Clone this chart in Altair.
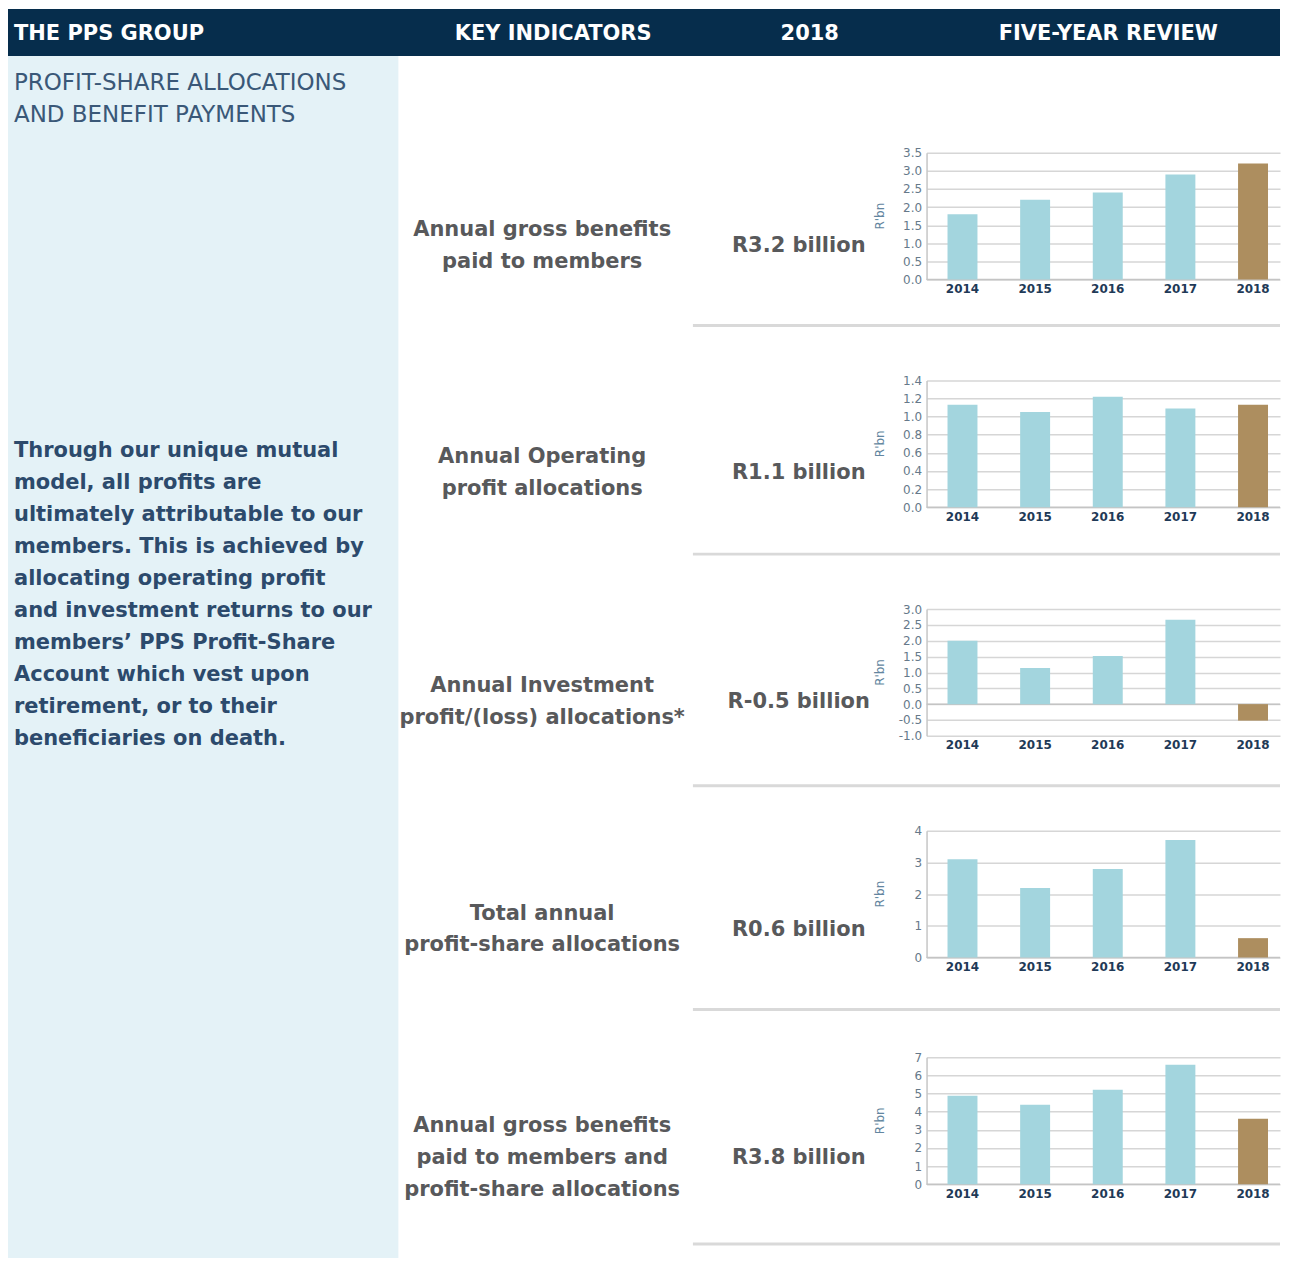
import altair as alt
import pandas as pd

# ---------------- data ----------------
years = ["2014", "2015", "2016", "2017", "2018"]
period = ["history", "history", "history", "history", "current"]

gross_benefits = [1.8, 2.2, 2.4, 2.9, 3.2]
operating_profit = [1.13, 1.05, 1.22, 1.09, 1.13]
investment_profit = [2.0, 1.14, 1.52, 2.66, -0.52]
total_allocations = [3.1, 2.19, 2.79, 3.71, 0.61]
benefits_and_allocations = [4.88, 4.38, 5.21, 6.59, 3.61]

row_labels = [
    "Annual gross benefits\npaid to members",
    "Annual Operating\nprofit allocations",
    "Annual Investment\nprofit/(loss) allocations*",
    "Total annual\nprofit-share allocations",
    "Annual gross benefits\npaid to members and\nprofit-share allocations",
]
row_values = ["R3.2 billion", "R1.1 billion", "R-0.5  billion", "R0.6 billion", "R3.8 billion"]

y_domains = [[0, 3.5], [0, 1.4], [-1, 3], [0, 4], [0, 7]]
y_ticks = [
    [0, 0.5, 1.0, 1.5, 2.0, 2.5, 3.0, 3.5],
    [0, 0.2, 0.4, 0.6, 0.8, 1.0, 1.2, 1.4],
    [-1.0, -0.5, 0, 0.5, 1.0, 1.5, 2.0, 2.5, 3.0],
    [0, 1, 2, 3, 4],
    [0, 1, 2, 3, 4, 5, 6, 7],
]
y_formats = [".1f", ".1f", ".1f", "d", "d"]
y_title = "R'bn"

header_labels = ["THE PPS GROUP", "KEY INDICATORS", "2018", "FIVE-YEAR REVIEW"]
section_title = "PROFIT-SHARE ALLOCATIONS\nAND BENEFIT PAYMENTS"
body_text = (
    "Through our unique mutual\n"
    "model, all profits are\n"
    "ultimately attributable to our\n"
    "members. This is achieved by\n"
    "allocating operating profit\n"
    "and investment returns to our\n"
    "members\u2019 PPS Profit-Share\n"
    "Account which vest upon\n"
    "retirement, or to their\n"
    "beneficiaries on death."
)

# ---------------- style ----------------
FONT = "DejaVu Sans"
NAVY = "#062d4c"
PANEL = "#e4f2f7"
TEXT_NAVY = "#2c4a6c"
TEXT_GRAY = "#58595b"
TEAL = "#a3d5de"
GOLD = "#ad8e5f"
GRID = "#d6d6d6"
SEP = "#d9d9d9"

TOTAL_W = 1274
HEADER_H = 47
LEFT_W = 391
BODY_H = 1204
PLOT_W = 354
PLOT_H = 127
PLOT_LEFT = 920

one = pd.DataFrame({"a": [0]})

# ---------------- header ----------------
header_bg = alt.Chart(one).mark_rect(color=NAVY).encode(
    x=alt.value(0), x2=alt.value(TOTAL_W), y=alt.value(0), y2=alt.value(HEADER_H)
)
header_pos = [(6, "left"), (546, "center"), (803, "center"), (1102, "center")]
header_layers = [header_bg]
for lbl, (hx, al) in zip(header_labels, header_pos):
    header_layers.append(
        alt.Chart(pd.DataFrame({"t": [lbl]}))
        .mark_text(font=FONT, fontSize=21, fontWeight="bold", color="white",
                   align=al, baseline="middle")
        .encode(x=alt.value(hx), y=alt.value(25), text="t:N")
    )
header = alt.layer(*header_layers).properties(width=TOTAL_W, height=HEADER_H)

# ---------------- left panel ----------------
left_bg = alt.Chart(one).mark_rect(color=PANEL).encode(
    x=alt.value(0), x2=alt.value(LEFT_W), y=alt.value(0), y2=alt.value(BODY_H)
)
left_title = (
    alt.Chart(pd.DataFrame({"t": [section_title]}))
    .mark_text(font=FONT, fontSize=23, fontWeight="normal", color="#3a5878",
               align="left", baseline="middle", lineBreak="\n", lineHeight=32)
    .encode(x=alt.value(6), y=alt.value(27), text="t:N")
)
left_body = (
    alt.Chart(pd.DataFrame({"t": [body_text]}))
    .mark_text(font=FONT, fontSize=21, fontWeight="bold", color=TEXT_NAVY,
               align="left", baseline="middle", lineBreak="\n", lineHeight=32)
    .encode(x=alt.value(6), y=alt.value(396), text="t:N")
)
left = alt.layer(left_bg, left_title, left_body).properties(width=LEFT_W, height=BODY_H)


# ---------------- bar panels ----------------
def bar_panel(values, domain, ticks, fmt, label, value_text, label_y, value_y):
    df = pd.DataFrame({"year": years, "value": values, "period": period})
    zero = alt.Chart(one).mark_rule(color="#c4c4c4", strokeWidth=1.5).encode(y=alt.datum(0))
    bars = alt.Chart(df).mark_bar().encode(
        x=alt.X(
            "year:N",
            scale=alt.Scale(paddingInner=0.5876, paddingOuter=0.2268, align=0.636),
            axis=alt.Axis(title=None, labelAngle=0, ticks=False, domain=False, grid=False,
                          labelFont=FONT, labelFontWeight="bold", labelFontSize=12,
                          labelColor="#1f3a57", labelPadding=4),
        ),
        y=alt.Y(
            "value:Q",
            scale=alt.Scale(domain=domain, nice=False),
            axis=alt.Axis(values=ticks, tickCount=30, format=fmt, title=y_title, ticks=False,
                          labelOverlap=False,
                          labelExpr="replace(datum.label, '\u2212', '-')",
                          labelFont=FONT, labelFontWeight="normal", labelFontSize=12,
                          labelColor="#66798a", labelPadding=5,
                          titleFont=FONT, titleFontWeight="normal", titleFontSize=12,
                          titleColor="#6386a0", titleX=-47, titleY=63,
                          titleAlign="center", titleBaseline="middle",
                          domain=True, domainColor="#c6c6c6", domainWidth=1.5,
                          grid=True, gridColor=GRID, gridWidth=1.5),
        ),
        color=alt.Color("period:N", scale=alt.Scale(domain=["history", "current"], range=[TEAL, GOLD]),
                        legend=None),
    )
    lab = (
        alt.Chart(pd.DataFrame({"t": [label]}))
        .mark_text(font=FONT, fontSize=21, fontWeight="bold", color=TEXT_GRAY,
                   align="center", baseline="middle", lineBreak="\n", lineHeight=32)
        .encode(x=alt.value(-385), y=alt.value(label_y), text="t:N")
    )
    val = (
        alt.Chart(pd.DataFrame({"t": [value_text]}))
        .mark_text(font=FONT, fontSize=21, fontWeight="bold", color=TEXT_GRAY,
                   align="center", baseline="middle")
        .encode(x=alt.value(-128), y=alt.value(value_y), text="t:N")
    )
    return alt.layer(zero, bars, lab, val).properties(width=PLOT_W, height=PLOT_H)


def spacer(h, sep_y=None):
    if sep_y is None:
        ch = alt.Chart(one).mark_point(opacity=0, size=1).encode(x=alt.value(0), y=alt.value(1))
    else:
        ch = alt.Chart(one).mark_rule(color=SEP, strokeWidth=3).encode(
            x=alt.value(-234), x2=alt.value(PLOT_W), y=alt.value(sep_y)
        )
    return ch.properties(width=PLOT_W, height=h)


series = [gross_benefits, operating_profit, investment_profit, total_allocations, benefits_and_allocations]
label_ys = [77, 77, 77, 83, 69]
value_ys = [93, 93, 93, 99, 101]
gaps = [(101, 46), (102, 47), (95, 50), (100, 52), (74, 60)]

right_items = [spacer(97)]
for i in range(5):
    right_items.append(bar_panel(series[i], y_domains[i], y_ticks[i], y_formats[i],
                                 row_labels[i], row_values[i], label_ys[i], value_ys[i]))
    right_items.append(spacer(*gaps[i]))

right = alt.vconcat(*right_items, spacing=0, bounds="flush")
body = alt.hconcat(left, right, spacing=PLOT_LEFT - LEFT_W, bounds="flush")

chart = (
    alt.vconcat(header, body, spacing=0, bounds="flush")
    .properties(padding=0, background="white")
    .configure_view(stroke=None)
)

chart.save("out.html", embed_options={"renderer": "svg", "actions": False})
